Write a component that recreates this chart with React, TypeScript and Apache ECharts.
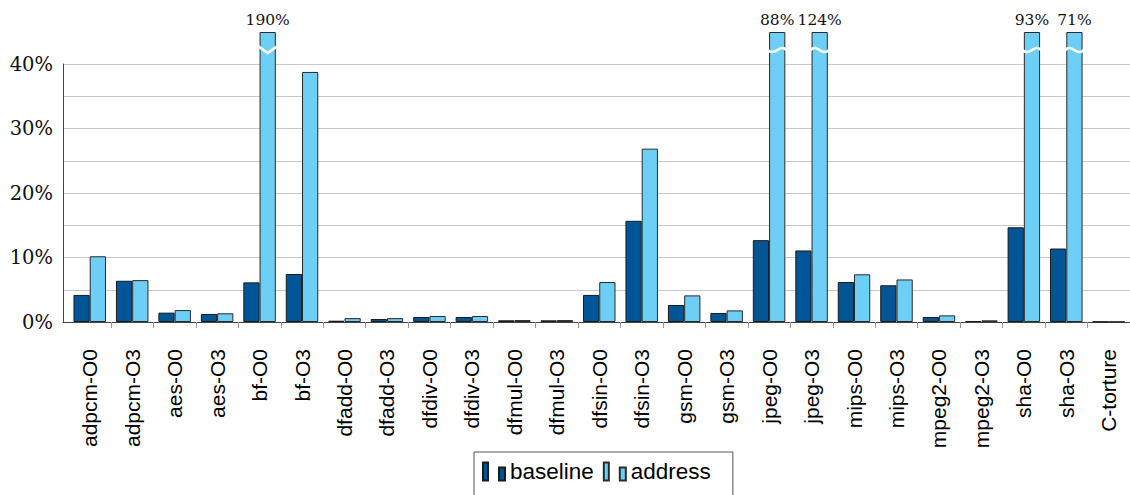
import React, { useEffect, useRef } from "react";
import * as echarts from "echarts";

const categories = [
  "adpcm-O0", "adpcm-O3", "aes-O0", "aes-O3", "bf-O0", "bf-O3",
  "dfadd-O0", "dfadd-O3", "dfdiv-O0", "dfdiv-O3", "dfmul-O0", "dfmul-O3",
  "dfsin-O0", "dfsin-O3", "gsm-O0", "gsm-O3", "jpeg-O0", "jpeg-O3",
  "mips-O0", "mips-O3", "mpeg2-O0", "mpeg2-O3", "sha-O0", "sha-O3", "C-torture",
];
const baseline = [
  4.2, 6.4, 1.45, 1.25, 6.15, 7.45, 0.2, 0.47, 0.78, 0.78, 0.26, 0.26,
  4.2, 15.7, 2.64, 1.4, 12.7, 11.1, 6.2, 5.7, 0.78, 0.16, 14.7, 11.4, 0.05,
];
const address = [
  10.2, 6.5, 1.85, 1.35, 190, 38.8, 0.6, 0.6, 0.93, 0.93, 0.3, 0.3,
  6.2, 26.9, 4.13, 1.8, 88, 124, 7.4, 6.6, 1.03, 0.26, 93, 71, 0.05,
];
const yTicks = [0, 10, 20, 30, 40];

const AXIS_MAX = 40;
const CLIP_AT = 45;
const BREAK_AT = 42.2;
const BAR_W = 16.25;

export default function App() {
  const ref = useRef<HTMLDivElement>(null);
  useEffect(() => {
    if (!ref.current) return;
    const chart = echarts.init(ref.current, null, { renderer: "svg" });
    const breakData = address
      .map((v, i) => (v > CLIP_AT ? [i, BREAK_AT] : null))
      .filter((d) => d !== null);
    const option: any = {
      animation: false,
      grid: [
        { left: 63, top: 64, right: -6, bottom: 173 },
        { left: 68.5, top: 32, width: 1062.5, bottom: 173 },
      ],
      xAxis: [
        {
          gridIndex: 0, type: "value", min: 0, max: 1,
          axisLine: { show: true, lineStyle: { color: "#444", width: 1 } },
          axisTick: { show: false }, axisLabel: { show: false }, splitLine: { show: false },
        },
        {
          gridIndex: 1, type: "category", data: categories,
          axisLine: { show: false },
          axisTick: { show: true, length: 6, lineStyle: { color: "#999" }, interval: (i: number) => i > 0 },
          axisLabel: {
            rotate: 90, margin: 27, interval: 0,
            fontFamily: "Liberation Sans", fontSize: 21, color: "#000",
          },
        },
      ],
      yAxis: [
        {
          gridIndex: 0, type: "value", min: 0, max: AXIS_MAX, interval: 5,
          axisLine: { show: true, lineStyle: { color: "#444", width: 1 } },
          axisTick: { show: false },
          splitLine: { show: true, lineStyle: { color: "#c8c8c8", width: 1.2 } },
          axisLabel: {
            margin: 10, fontFamily: "DejaVu Serif", fontSize: 19.5, color: "#111",
            formatter: (v: number) => (yTicks.includes(v) ? v + "%" : ""),
          },
        },
        { gridIndex: 1, type: "value", min: 0, max: CLIP_AT, show: false },
      ],
      legend: {
        data: ["baseline", "address"],
        left: 474, top: 452,
        padding: [8, 22, 30, 8],
        borderColor: "#555", borderWidth: 1,
        itemWidth: 22, itemHeight: 18, itemGap: 9,
        icon: "path://M0,0H5V18H0Z M16,5H22V18H16Z",
        textStyle: { fontFamily: "Liberation Sans", fontSize: 22.5, color: "#000" },
      },
      series: [
        {
          name: "baseline", type: "bar", xAxisIndex: 1, yAxisIndex: 1,
          data: baseline, barWidth: BAR_W, barGap: "0%",
          itemStyle: { color: "#005596", borderColor: "#1a1a1a", borderWidth: 1 },
        },
        {
          name: "address", type: "bar", xAxisIndex: 1, yAxisIndex: 1,
          data: address.map((v) => Math.min(v, CLIP_AT)), barWidth: BAR_W, barGap: "0%",
          itemStyle: { color: "#6dcff6", borderColor: "#2a2a2a", borderWidth: 1 },
          label: {
            show: true, position: "top", distance: 4,
            fontFamily: "DejaVu Serif", fontSize: 15.5, color: "#111",
            formatter: (p: any) => (address[p.dataIndex] > CLIP_AT ? address[p.dataIndex] + "%" : ""),
          },
        },
        {
          name: "breaks", type: "custom", xAxisIndex: 1, yAxisIndex: 1, z: 10, clip: false,
          data: breakData,
          renderItem: (params: any, api: any) => {
            const idx = api.value(0);
            const pt = api.coord([idx, api.value(1)]);
            const l = pt[0] - 1;
            const r = pt[0] + BAR_W + 1;
            const w = r - l;
            const y = pt[1];
            const style = { stroke: "#fff", lineWidth: 2.6, fill: null, lineCap: "round" };
            if (idx === 4) {
              return {
                type: "polyline",
                shape: { points: [[l, y - 3.5], [l + w / 2, y + 3], [r, y - 3.5]] },
                style,
              };
            }
            const s = idx % 2 === 0 ? 1 : -1;
            return {
              type: "bezierCurve",
              shape: {
                x1: l, y1: y, x2: r, y2: y,
                cpx1: l + w * 0.35, cpy1: y + 7 * s,
                cpx2: l + w * 0.65, cpy2: y - 7 * s,
              },
              style,
            };
          },
        },
      ],
    };
    chart.setOption(option);
    return () => chart.dispose();
  }, []);
  return (
    <div
      ref={ref}
      style={{ position: "fixed", left: 0, top: 0, width: 1130, height: 495, background: "#fff" }}
    />
  );
}
